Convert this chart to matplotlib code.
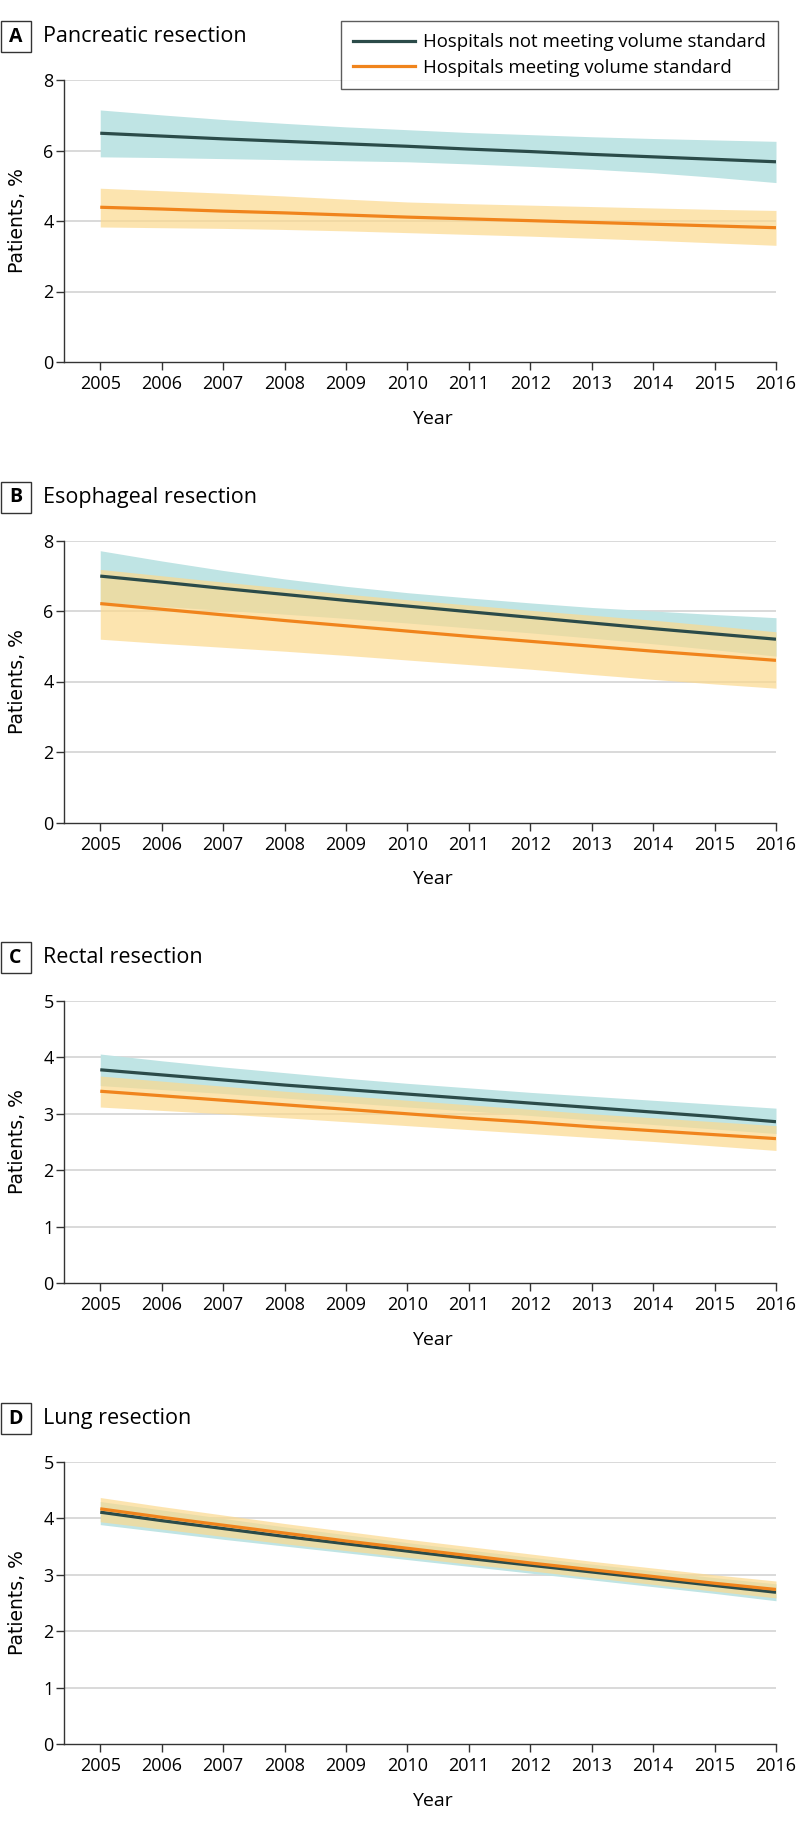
import matplotlib
matplotlib.use("Agg")
import matplotlib.pyplot as plt
from matplotlib.patches import Rectangle
from matplotlib.lines import Line2D

plt.rcParams['font.family'] = ['Open Sans', 'DejaVu Sans']

W, H = 798, 1834

years = list(range(2005, 2017))

panel_letters = ["A", "B", "C", "D"]
panel_titles = ["Pancreatic resection", "Esophageal resection", "Rectal resection", "Lung resection"]
y_maxes = [8, 8, 5, 5]
y_steps = [2, 2, 1, 1]

legend_labels = ["Hospitals not meeting volume standard", "Hospitals meeting volume standard"]

# A: pancreatic
not_A = [6.49, 6.41, 6.33, 6.26, 6.19, 6.12, 6.04, 5.97, 5.89, 5.82, 5.75, 5.68]
not_A_hi = [7.15, 7.01, 6.88, 6.77, 6.67, 6.59, 6.51, 6.45, 6.39, 6.34, 6.30, 6.26]
not_A_lo = [5.82, 5.80, 5.77, 5.74, 5.71, 5.68, 5.62, 5.55, 5.47, 5.37, 5.24, 5.09]
met_A = [4.39, 4.34, 4.28, 4.23, 4.17, 4.11, 4.06, 4.01, 3.96, 3.91, 3.86, 3.81]
met_A_hi = [4.93, 4.86, 4.79, 4.71, 4.62, 4.54, 4.49, 4.45, 4.41, 4.37, 4.33, 4.30]
met_A_lo = [3.83, 3.81, 3.79, 3.76, 3.72, 3.67, 3.62, 3.57, 3.51, 3.45, 3.38, 3.31]

# B: esophageal
not_B = [6.99, 6.82, 6.64, 6.47, 6.30, 6.14, 5.98, 5.82, 5.66, 5.50, 5.35, 5.20]
not_B_hi = [7.71, 7.42, 7.15, 6.91, 6.70, 6.52, 6.37, 6.23, 6.10, 6.00, 5.90, 5.81]
not_B_lo = [6.25, 6.13, 6.02, 5.91, 5.79, 5.66, 5.52, 5.38, 5.23, 5.07, 4.90, 4.72]
met_B = [6.21, 6.05, 5.89, 5.73, 5.58, 5.43, 5.28, 5.14, 5.00, 4.86, 4.73, 4.60]
met_B_hi = [7.18, 7.00, 6.82, 6.65, 6.48, 6.32, 6.17, 6.02, 5.88, 5.74, 5.58, 5.41]
met_B_lo = [5.20, 5.08, 4.97, 4.86, 4.74, 4.61, 4.48, 4.35, 4.20, 4.06, 3.93, 3.81]

# C: rectal
not_C = [3.78, 3.69, 3.60, 3.51, 3.43, 3.35, 3.27, 3.19, 3.11, 3.03, 2.95, 2.86]
not_C_hi = [4.06, 3.94, 3.83, 3.73, 3.63, 3.54, 3.46, 3.38, 3.31, 3.24, 3.17, 3.10]
not_C_lo = [3.50, 3.43, 3.36, 3.28, 3.20, 3.12, 3.05, 2.97, 2.89, 2.81, 2.73, 2.65]
met_C = [3.40, 3.32, 3.24, 3.16, 3.08, 3.00, 2.92, 2.85, 2.77, 2.70, 2.63, 2.56]
met_C_hi = [3.67, 3.58, 3.49, 3.40, 3.32, 3.24, 3.16, 3.08, 3.00, 2.93, 2.86, 2.79]
met_C_lo = [3.12, 3.06, 3.00, 2.93, 2.86, 2.79, 2.72, 2.65, 2.58, 2.51, 2.43, 2.35]

# D: lung
not_D = [4.11, 3.96, 3.82, 3.68, 3.55, 3.42, 3.29, 3.17, 3.05, 2.93, 2.81, 2.69]
not_D_hi = [4.30, 4.15, 4.00, 3.85, 3.71, 3.57, 3.44, 3.31, 3.19, 3.07, 2.95, 2.84]
not_D_lo = [3.89, 3.76, 3.63, 3.51, 3.39, 3.27, 3.15, 3.03, 2.91, 2.79, 2.67, 2.54]
met_D = [4.17, 4.02, 3.88, 3.74, 3.60, 3.47, 3.34, 3.21, 3.09, 2.97, 2.85, 2.74]
met_D_hi = [4.37, 4.21, 4.06, 3.91, 3.77, 3.63, 3.50, 3.37, 3.24, 3.12, 3.00, 2.89]
met_D_lo = [3.94, 3.81, 3.68, 3.55, 3.43, 3.31, 3.19, 3.07, 2.95, 2.83, 2.71, 2.59]

not_series = [(not_A, not_A_lo, not_A_hi), (not_B, not_B_lo, not_B_hi),
              (not_C, not_C_lo, not_C_hi), (not_D, not_D_lo, not_D_hi)]
met_series = [(met_A, met_A_lo, met_A_hi), (met_B, met_B_lo, met_B_hi),
              (met_C, met_C_lo, met_C_hi), (met_D, met_D_lo, met_D_hi)]

DARK = "#2b4b49"
ORANGE = "#f0841c"
TEAL_BAND = "#bfe4e4"
ORANGE_BAND = "#fcd98e"
GRID = "#d9d9d9"
AXIS = "#333333"

# layout in pixels
AX_LEFT, AX_RIGHT = 64, 776
AX_TOPS = [80, 540.5, 1001, 1462]
AX_H = 282


def fx(px):
    return px / W


def fy(py):
    return 1 - py / H


fig = plt.figure(figsize=(W / 100, H / 100), dpi=100)

for i in range(4):
    top = AX_TOPS[i]
    ax = fig.add_axes([fx(AX_LEFT), fy(top + AX_H), fx(AX_RIGHT - AX_LEFT), AX_H / H])

    mid, lo, hi = not_series[i]
    ax.fill_between(years, lo, hi, color=TEAL_BAND, lw=0, zorder=2)
    mid2, lo2, hi2 = met_series[i]
    ax.fill_between(years, lo2, hi2, color=ORANGE_BAND, alpha=0.7, lw=0, zorder=3)
    ax.plot(years, mid, color=DARK, lw=2.3, zorder=4, solid_capstyle="butt")
    ax.plot(years, mid2, color=ORANGE, lw=2.3, zorder=5, solid_capstyle="butt")

    ax.set_xlim(2004.41, 2016)
    ax.set_ylim(0, y_maxes[i])
    yt = list(range(0, y_maxes[i] + 1, y_steps[i]))
    ax.set_yticks(yt)
    ax.set_xticks(years)
    for v in yt[1:]:
        ax.axhline(v, color=GRID, lw=1.4, zorder=1)

    for s in ["top", "right"]:
        ax.spines[s].set_visible(False)
    for s in ["left", "bottom"]:
        ax.spines[s].set_color(AXIS)
        ax.spines[s].set_linewidth(1.0)
    ax.tick_params(axis="both", direction="out", length=5.5, width=1.0, color=AXIS,
                   labelsize=13, labelcolor="black")
    ax.tick_params(axis="x", pad=4)
    ax.tick_params(axis="y", pad=2)

    ax.set_xlabel("Year", fontsize=14)
    ax.xaxis.set_label_coords(0.517, -0.17)
    ax.set_ylabel("Patients, %", fontsize=13.5, family=["DejaVu Sans"])
    ax.yaxis.set_label_coords(-0.052, 0.5)

    # panel letter box and title
    ty = top - 43.5
    fig.patches.append(Rectangle((fx(0.5), fy(ty + 15.5)), fx(30.5), 31 / H,
                                 transform=fig.transFigure, fill=False,
                                 edgecolor=AXIS, lw=1.0))
    fig.text(fx(15.5), fy(ty), panel_letters[i], ha="center", va="center",
             fontsize=14, fontweight="bold")
    fig.text(fx(43), fy(ty), panel_titles[i], ha="left", va="center", fontsize=15.5)

    if i == 0:
        handles = [Line2D([], [], color=DARK, lw=2.3), Line2D([], [], color=ORANGE, lw=2.3)]
        leg = ax.legend(handles, legend_labels, loc="upper right",
                        bbox_to_anchor=(fx(778), fy(21)), bbox_transform=fig.transFigure,
                        fontsize=13.4, frameon=True, fancybox=False, borderaxespad=0,
                        handlelength=3.3, handletextpad=0.45, labelspacing=0.42,
                        borderpad=0.65)
        leg.get_frame().set_edgecolor(AXIS)
        leg.get_frame().set_linewidth(1.0)
        leg.set_zorder(10)

fig.savefig("out.png", dpi=100)
